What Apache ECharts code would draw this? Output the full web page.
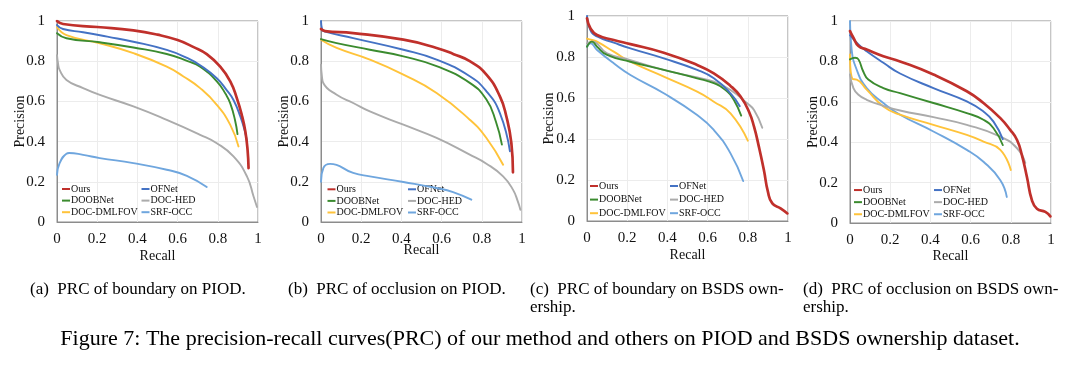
<!DOCTYPE html>
<html><head><meta charset="utf-8">
<script src="https://cdn.jsdelivr.net/npm/echarts@6/dist/echarts.min.js"></script>
<style>html,body{margin:0;padding:0;background:#fff}#c{width:1080px;height:365px}</style>
</head><body><div id="c"></div>
<script>
// ---------- data ----------
const methodNames = ['Ours', 'OFNet', 'DOOBNet', 'DOC-HED', 'DOC-DMLFOV', 'SRF-OCC'];
const methodColors = ['#C0302B', '#4472C4', '#3B8B2F', '#ABABAB', '#FFC33A', '#6FA6DE'];
const axisTicks = [0, 0.2, 0.4, 0.6, 0.8, 1];
const xTitle = 'Recall';
const yTitle = 'Precision';

// (a) PRC of boundary on PIOD  [recall, precision]
const a_ours = [[0,1.0],[0.03,0.985],[0.2,0.97],[0.38,0.953],[0.5,0.932],[0.6,0.905],[0.68,0.87],[0.745,0.835],[0.812,0.773],[0.862,0.7],[0.895,0.615],[0.92,0.53],[0.937,0.45],[0.948,0.36],[0.953,0.268]];
const a_ofnet = [[0,0.98],[0.03,0.96],[0.13,0.944],[0.25,0.922],[0.38,0.897],[0.546,0.856],[0.65,0.815],[0.712,0.78],[0.795,0.715],[0.845,0.655],[0.878,0.607],[0.912,0.525],[0.935,0.45],[0.945,0.40]];
const a_doob = [[0,0.939],[0.047,0.914],[0.213,0.894],[0.38,0.868],[0.546,0.836],[0.65,0.8],[0.712,0.773],[0.795,0.70],[0.84,0.635],[0.862,0.59],[0.885,0.51],[0.898,0.437]];
const a_hed = [[0,0.83],[0.005,0.79],[0.013,0.757],[0.047,0.707],[0.13,0.666],[0.213,0.632],[0.38,0.575],[0.546,0.508],[0.712,0.434],[0.795,0.392],[0.878,0.326],[0.945,0.227],[0.978,0.127],[0.995,0.075]];
const a_dml = [[0,0.97],[0.047,0.93],[0.213,0.889],[0.38,0.84],[0.546,0.773],[0.629,0.724],[0.712,0.666],[0.795,0.583],[0.862,0.483],[0.903,0.376]];
const a_srf = [[0,0.235],[0.013,0.293],[0.047,0.34],[0.06,0.343],[0.13,0.334],[0.213,0.318],[0.38,0.293],[0.546,0.26],[0.646,0.23],[0.745,0.174]];

// (b) PRC of occlusion on PIOD
const b_ours = [[0,0.96],[0.02,0.95],[0.16,0.94],[0.41,0.907],[0.575,0.866],[0.66,0.835],[0.74,0.80],[0.823,0.733],[0.89,0.625],[0.922,0.526],[0.947,0.393],[0.955,0.247]];
const b_ofnet = [[0,1.0],[0.005,0.96],[0.012,0.95],[0.16,0.915],[0.41,0.857],[0.575,0.808],[0.74,0.725],[0.823,0.65],[0.89,0.542],[0.94,0.352]];
const b_doob = [[0,0.91],[0.078,0.89],[0.243,0.857],[0.41,0.824],[0.575,0.775],[0.74,0.692],[0.823,0.609],[0.87,0.5],[0.90,0.385]];
const b_hed = [[0,0.783],[0.004,0.73],[0.012,0.69],[0.078,0.633],[0.16,0.592],[0.243,0.55],[0.41,0.484],[0.575,0.418],[0.74,0.335],[0.823,0.29],[0.906,0.227],[0.955,0.161],[0.98,0.1],[0.992,0.061]];
const b_dml = [[0,0.907],[0.078,0.866],[0.243,0.808],[0.41,0.733],[0.575,0.642],[0.74,0.509],[0.823,0.418],[0.906,0.285]];
const b_srf = [[0,0.2],[0.012,0.269],[0.045,0.289],[0.16,0.244],[0.243,0.227],[0.41,0.199],[0.575,0.169],[0.657,0.149],[0.748,0.111]];

// (c) PRC of boundary on BSDS ownership
const c_ours = [[0,0.989],[0.017,0.94],[0.05,0.907],[0.133,0.883],[0.216,0.863],[0.382,0.821],[0.548,0.761],[0.631,0.72],[0.714,0.659],[0.764,0.607],[0.806,0.533],[0.831,0.46],[0.855,0.363],[0.88,0.249],[0.9,0.143],[0.922,0.086],[0.963,0.062],[0.997,0.037]];
const c_ofnet = [[0,1.0],[0.017,0.93],[0.05,0.9],[0.133,0.87],[0.216,0.842],[0.382,0.793],[0.548,0.737],[0.631,0.696],[0.714,0.623],[0.76,0.56]];
const c_doob = [[0,0.85],[0.025,0.875],[0.05,0.85],[0.1,0.81],[0.216,0.777],[0.382,0.737],[0.548,0.696],[0.631,0.672],[0.698,0.631],[0.731,0.59],[0.767,0.514]];
const c_hed = [[0,0.867],[0.025,0.875],[0.1,0.818],[0.216,0.785],[0.382,0.737],[0.548,0.70],[0.631,0.68],[0.714,0.639],[0.797,0.574],[0.831,0.541],[0.872,0.455]];
const c_dml = [[0,0.89],[0.025,0.883],[0.05,0.875],[0.133,0.826],[0.216,0.777],[0.382,0.704],[0.548,0.631],[0.631,0.582],[0.714,0.525],[0.80,0.392]];
const c_srf = [[0,0.85],[0.017,0.867],[0.05,0.834],[0.133,0.769],[0.216,0.712],[0.382,0.623],[0.548,0.517],[0.631,0.444],[0.714,0.33],[0.777,0.195]];

// (d) PRC of occlusion on BSDS ownership
const d_ours = [[0,0.95],[0.017,0.917],[0.042,0.876],[0.083,0.859],[0.166,0.826],[0.249,0.80],[0.415,0.735],[0.581,0.652],[0.664,0.594],[0.748,0.519],[0.797,0.461],[0.831,0.411],[0.855,0.337],[0.88,0.229],[0.905,0.113],[0.93,0.071],[0.972,0.055],[0.997,0.033]];
const d_ofnet = [[0,0.93],[0.042,0.884],[0.083,0.85],[0.166,0.793],[0.249,0.74],[0.415,0.668],[0.581,0.602],[0.664,0.552],[0.714,0.502],[0.76,0.415]];
const d_doob = [[0,0.81],[0.025,0.818],[0.042,0.81],[0.066,0.75],[0.091,0.71],[0.166,0.668],[0.249,0.643],[0.415,0.594],[0.581,0.544],[0.664,0.511],[0.714,0.469],[0.76,0.386]];
const d_hed = [[0,0.735],[0.017,0.668],[0.042,0.635],[0.083,0.61],[0.166,0.58],[0.249,0.557],[0.415,0.524],[0.581,0.486],[0.748,0.428],[0.831,0.37],[0.872,0.298]];
const d_dml = [[0,0.834],[0.013,0.713],[0.033,0.71],[0.083,0.66],[0.166,0.577],[0.249,0.536],[0.415,0.486],[0.581,0.436],[0.664,0.403],[0.748,0.362],[0.80,0.262]];
const d_srf = [[0,1.0],[0.008,0.86],[0.033,0.76],[0.083,0.668],[0.166,0.594],[0.249,0.536],[0.415,0.453],[0.581,0.362],[0.664,0.303],[0.748,0.212],[0.78,0.129]];

const subCaptions = [
  ['(a)  PRC of boundary on PIOD.'],
  ['(b)  PRC of occlusion on PIOD.'],
  ['(c)  PRC of boundary on BSDS own-', 'ership.'],
  ['(d)  PRC of occlusion on BSDS own-', 'ership.']
];
const figureCaption = 'Figure 7: The precision-recall curves(PRC) of our method and others on PIOD and BSDS ownership dataset.';

// ---------- layout ----------
const SERIF = '"Liberation Serif", "Times New Roman", serif';
const panels = [
  { grid: {left: 57, top: 21, width: 201, height: 201}, sets: [a_ours, a_ofnet, a_doob, a_hed, a_dml, a_srf],
    xGap: 27, yGap: 30, lg: {c1: 62, c2: 141.5, top: 183.2, step: 11.6}, cap: {x: 30} },
  { grid: {left: 321, top: 21, width: 201, height: 201}, sets: [b_ours, b_ofnet, b_doob, b_hed, b_dml, b_srf],
    xGap: 21, yGap: 30, lg: {c1: 327.5, c2: 408, top: 183.5, step: 11.6}, cap: {x: 288} },
  { grid: {left: 587, top: 16, width: 201, height: 205}, sets: [c_ours, c_ofnet, c_doob, c_hed, c_dml, c_srf],
    xGap: 27, yGap: 31, lg: {c1: 590, c2: 670, top: 179.2, step: 13.6}, cap: {x: 530} },
  { grid: {left: 850, top: 21, width: 201, height: 202}, sets: [d_ours, d_ofnet, d_doob, d_hed, d_dml, d_srf],
    xGap: 26, yGap: 30, lg: {c1: 854, c2: 934, top: 184, step: 12.1}, cap: {x: 803} }
];

const option = {
  backgroundColor: '#fff',
  animation: false,
  grid: [], xAxis: [], yAxis: [], series: [], legend: [], graphic: []
};

const tickLabel = {color: '#111', fontFamily: SERIF, fontSize: 15};
const nameStyle = {color: '#111', fontFamily: SERIF, fontSize: 14};

panels.forEach((p, i) => {
  option.grid.push(Object.assign({show: true, borderColor: '#8c8c8c', borderWidth: 1, backgroundColor: 'transparent', containLabel: false}, p.grid));
  option.xAxis.push({
    type: 'value', gridIndex: i, min: axisTicks[0], max: axisTicks[axisTicks.length - 1], interval: 0.2,
    name: xTitle, nameLocation: 'middle', nameGap: p.xGap, nameTextStyle: nameStyle, nameMoveOverlap: false,
    axisLine: {show: true, lineStyle: {color: '#8c8c8c'}}, axisTick: {show: false},
    axisLabel: Object.assign({margin: 10}, tickLabel),
    splitLine: {show: true, lineStyle: {color: '#ececec', width: 1}}
  });
  option.yAxis.push({
    type: 'value', gridIndex: i, min: axisTicks[0], max: axisTicks[axisTicks.length - 1], interval: 0.2,
    name: yTitle, nameLocation: 'middle', nameGap: p.yGap, nameTextStyle: nameStyle, nameMoveOverlap: false,
    axisLine: {show: true, lineStyle: {color: '#8c8c8c'}}, axisTick: {show: false},
    axisLabel: Object.assign({margin: 12}, tickLabel),
    splitLine: {show: true, lineStyle: {color: '#ececec', width: 1}}
  });
  // draw order: SRF-OCC first, Ours last (on top)
  [5, 4, 3, 2, 1, 0].forEach(k => {
    option.series.push({
      type: 'line', name: methodNames[k], xAxisIndex: i, yAxisIndex: i,
      data: p.sets[k], showSymbol: false, symbol: 'none',
      smooth: 0.5,
      lineStyle: {color: methodColors[k], width: k === 0 ? 2.7 : 1.9, cap: 'round', join: 'round'},
      itemStyle: {color: methodColors[k]},
      z: 10 - k
    });
  });
  const lgBase = {
    orient: 'vertical', align: 'left', icon: 'rect', itemWidth: 8, itemHeight: 2, itemGap: 0,
    top: p.lg.top, padding: 0, selectedMode: false,
    textStyle: {fontFamily: SERIF, fontSize: 10, color: '#111', lineHeight: p.lg.step, padding: [0, 0, 0, -4]}
  };
  option.legend.push(Object.assign({}, lgBase, {left: p.lg.c1, data: [methodNames[0], methodNames[2], methodNames[4]]}));
  option.legend.push(Object.assign({}, lgBase, {left: p.lg.c2, data: [methodNames[1], methodNames[3], methodNames[5]]}));
  subCaptions[i].forEach((line, j) => {
    option.graphic.push({
      type: 'text', left: p.cap.x, top: 281 + j * 18,
      style: {text: line, fontFamily: SERIF, fontSize: 17, fill: '#000'}
    });
  });
});

option.graphic.push({
  type: 'text', left: 'center', top: 328,
  style: {text: figureCaption, fontFamily: SERIF, fontSize: 22, fill: '#000'}
});

const chart = echarts.init(document.getElementById('c'), null, {renderer: 'canvas'});
chart.setOption(option);
</script>
</body></html>
